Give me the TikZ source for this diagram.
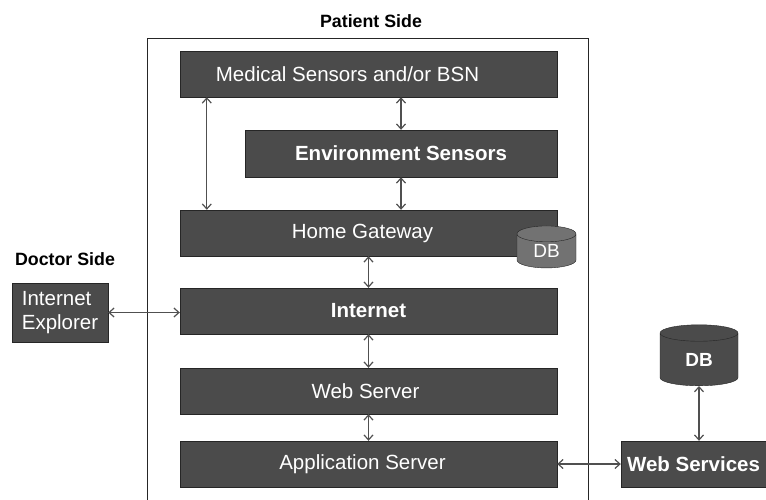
\documentclass[tikz,border=0pt]{standalone}
\usepackage{fontspec}
\setmainfont{Liberation Sans}
\usepackage{tikz}
\usetikzlibrary{arrows.meta,shapes.geometric}
\definecolor{boxgray}{HTML}{4B4B4B}
\definecolor{dbgray}{HTML}{727272}
\definecolor{linegray}{HTML}{505050}

\begin{document}
\begin{tikzpicture}[x=1pt, y=-1pt,
	block/.style={draw=black!85, fill=boxgray, text=white, minimum width=377, minimum height=46, inner sep=0, font=\fontsize{20.5}{23.5}\selectfont},
	heading/.style={font=\fontsize{17.8}{20}\selectfont\bfseries},
	store/.style={cylinder, shape border rotate=90, aspect=0.6, draw=black!85, text=white, inner sep=0, font=\fontsize{19}{22}\selectfont},
	link/.style={draw=linegray, line width=1.2pt, {Straight Barb[length=5pt,width=9pt]}-{Straight Barb[length=5pt,width=9pt]}}
]
\useasboundingbox (0,0) rectangle (766,499);

\node[heading] (patient) at (371,21) {Patient Side};
\node[heading] (doctor) at (65,259) {Doctor Side};

% patient side frame, open at the bottom
\draw[black!85, line width=1pt] (147,505) |- (588,38) -- (588,505);

\node[block] (med) at (368.5,74) {Medical Sensors and/or BSN\hspace*{42pt}};
\node[block, minimum width=312, minimum height=47, font=\fontsize{20.5}{23.5}\selectfont\bfseries] (env) at (401,153.5) {Environment Sensors};
\node[block] (gw) at (368.5,233) {Home Gateway\hspace*{12pt}};
\node[store, fill=dbgray, minimum width=59, minimum height=42] (db1) at (546.5,251) {DB};
\node[block, font=\fontsize{20.5}{23.5}\selectfont\bfseries] (inet) at (368.5,311) {Internet};
\node[block] (web) at (368.5,391) {Web Server\hspace*{6pt}};
\node[block] (app) at (368.5,464) {Application Server\hspace*{12pt}};

\node[block, minimum width=96, minimum height=59, align=left] (ie) at (60,312.5) {Internet\\Explorer};
\node[block, minimum width=145, font=\fontsize{20.5}{23.5}\selectfont\bfseries] (ws) at (693.5,464) {Web Services};
\node[store, fill=boxgray, minimum width=78, minimum height=61, font=\fontsize{19}{22}\selectfont\bfseries] (db2) at (699,359.5) {DB};

\draw[link] (env.north |- med.south) -- (env.north);
\draw[link] ([xshift=27]med.south west) -- ([xshift=27]gw.north west);
\draw[link] (env.south) -- (env.south |- gw.north);
\draw[link] (gw) -- (inet);
\draw[link] (inet) -- (web);
\draw[link] (web) -- (app);
\draw[link] (ie.east) -- (ie.east -| inet.west);
\draw[link] (app.east) -- (app.east -| ws.west);
\draw[link] (db2.south) -- (db2.south |- ws.north);
\end{tikzpicture}
\end{document}
